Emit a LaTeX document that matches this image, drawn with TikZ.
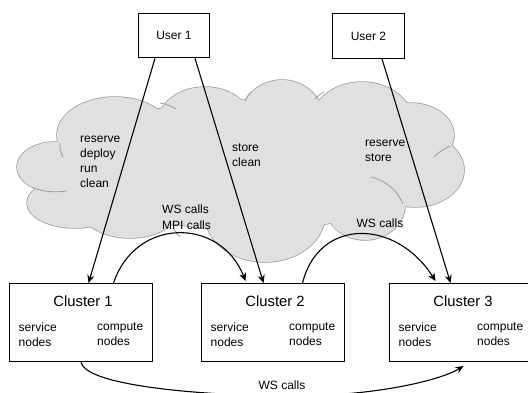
\documentclass[tikz,border=0pt]{standalone}
\usepackage{fontspec}
\setmainfont{Liberation Sans}
\usetikzlibrary{arrows.meta,positioning,calc}
\definecolor{cloudfill}{RGB}{224,224,224}
\definecolor{cloudline}{RGB}{155,155,155}
\tikzset{
  box/.style={rectangle,draw,line width=1.1pt,inner sep=0pt},
  userbox/.style={box,minimum width=71.5pt,minimum height=44.5pt,font=\fontsize{12}{15}\selectfont},
  clusterbox/.style={box,minimum width=143pt,minimum height=78pt},
  ctitle/.style={font=\fontsize{14.8}{18}\selectfont,inner sep=0pt},
  lbl/.style={font=\fontsize{12}{15}\selectfont,align=left,inner sep=0pt},
  call/.style={draw,line width=1.1pt,-{Stealth[length=8pt,width=7pt]}},
  puff/.style={draw=cloudline,fill=cloudfill,line width=1.5pt},
  puffedge/.style={draw=cloudline,line width=0.8pt}
}

\begin{document}
\begin{tikzpicture}[x=1pt,y=-1pt]

\clip (0,0) rectangle (528,392);

% =========================================================
% Cloud
% =========================================================

\def\puffs{55/167/38/25, 115/135/58/38, 205/125/48/38, 282/120/42/40,
  362/125/52/43, 410/135/44/32, 415/170/49/37, 365/205/40/35,
  265/215/60/47, 130/200/55/38, 75/203/48/25, 250/165/180/65}

\foreach \cx/\cy/\rx/\ry in \puffs
  \path[puff] (\cx,\cy) ellipse [x radius=\rx pt,y radius=\ry pt];
\foreach \cx/\cy/\rx/\ry in \puffs
  \fill[cloudfill] (\cx,\cy) ellipse [x radius=\rx pt,y radius=\ry pt];

% inner puff edges
\draw[puffedge] (60,143) to[bend right=15] (63,157);
\draw[puffedge] (33,188) to[bend right=12] (67,191);
\draw[puffedge] (160,103) to[bend left=10] (176,109);
\draw[puffedge] (245,101) to[bend left=10] (251,92);
\draw[puffedge] (315,99) to[bend left=10] (324,92);
\draw[puffedge] (434,157) to[bend left=10] (450,146);
\draw[puffedge] (371,177) to[bend left=25] (403,204);
\draw[puffedge] (180,237) to[bend left=10] (174,229);

% =========================================================
% Users and clusters
% =========================================================

\node[userbox] (u1) at (174,35.5) {User 1};
\node[userbox] (u2) at (368.5,36) {User 2};

\foreach \i/\xl in {1/9,2/201,3/389}{
  \node[clusterbox,anchor=north west] (c\i) at (\xl,283) {};
  \node[ctitle] (c\i-t) at ([xshift=2pt,yshift=-18.5pt]c\i.north) {Cluster \i};
  \node[lbl,anchor=west] (c\i-s) at ([xshift=9.5pt,yshift=-12pt]c\i.west) {service\\nodes};
  \node[lbl,anchor=west] (c\i-c) at ([xshift=88pt,yshift=-12pt]c\i.west) {compute\\nodes};
}

% =========================================================
% Calls
% =========================================================

\node[lbl,anchor=west] (ops1) at (80,161.5) {reserve\\deploy\\run\\clean};
\node[lbl,anchor=west] (ops2) at (232,155) {store\\clean};
\node[lbl,anchor=west] (ops3) at (365,151) {reserve\\store};
\node[lbl,anchor=west,font=\fontsize{12}{16}\selectfont] (ws1) at (162,217) {WS calls\\MPI calls};
\node[lbl] (ws2) at (380,223) {WS calls};
\node[lbl] (ws3) at (282,385) {WS calls};

\draw[call] ([xshift=-19pt]u1.south) -- ([xshift=7.5pt]c1.north);
\draw[call] ([xshift=21pt]u1.south) -- ([xshift=-9.5pt]c2.north);
\draw[call] ([xshift=13.5pt]u2.south) -- ([xshift=-10.5pt]c3.north);

\draw[call] ([xshift=32.5pt]c1.north) .. controls +(22,-66) and +(-25,-64) .. ([xshift=-27.5pt,yshift=2pt]c2.north);
\draw[call] ([xshift=29.5pt]c2.north) .. controls +(16,-65) and +(-40,-63) .. ([xshift=-25.5pt,yshift=2pt]c3.north);

% long call dips below the page edge
\coordinate (dip) at (293,396);
\draw[call] (c1.south) .. controls +(5,25) and +(-80,0) .. (dip)
  .. controls +(80,0) and +(-25,15) .. ([xshift=2.5pt,yshift=-4pt]c3.south);

\end{tikzpicture}
\end{document}
